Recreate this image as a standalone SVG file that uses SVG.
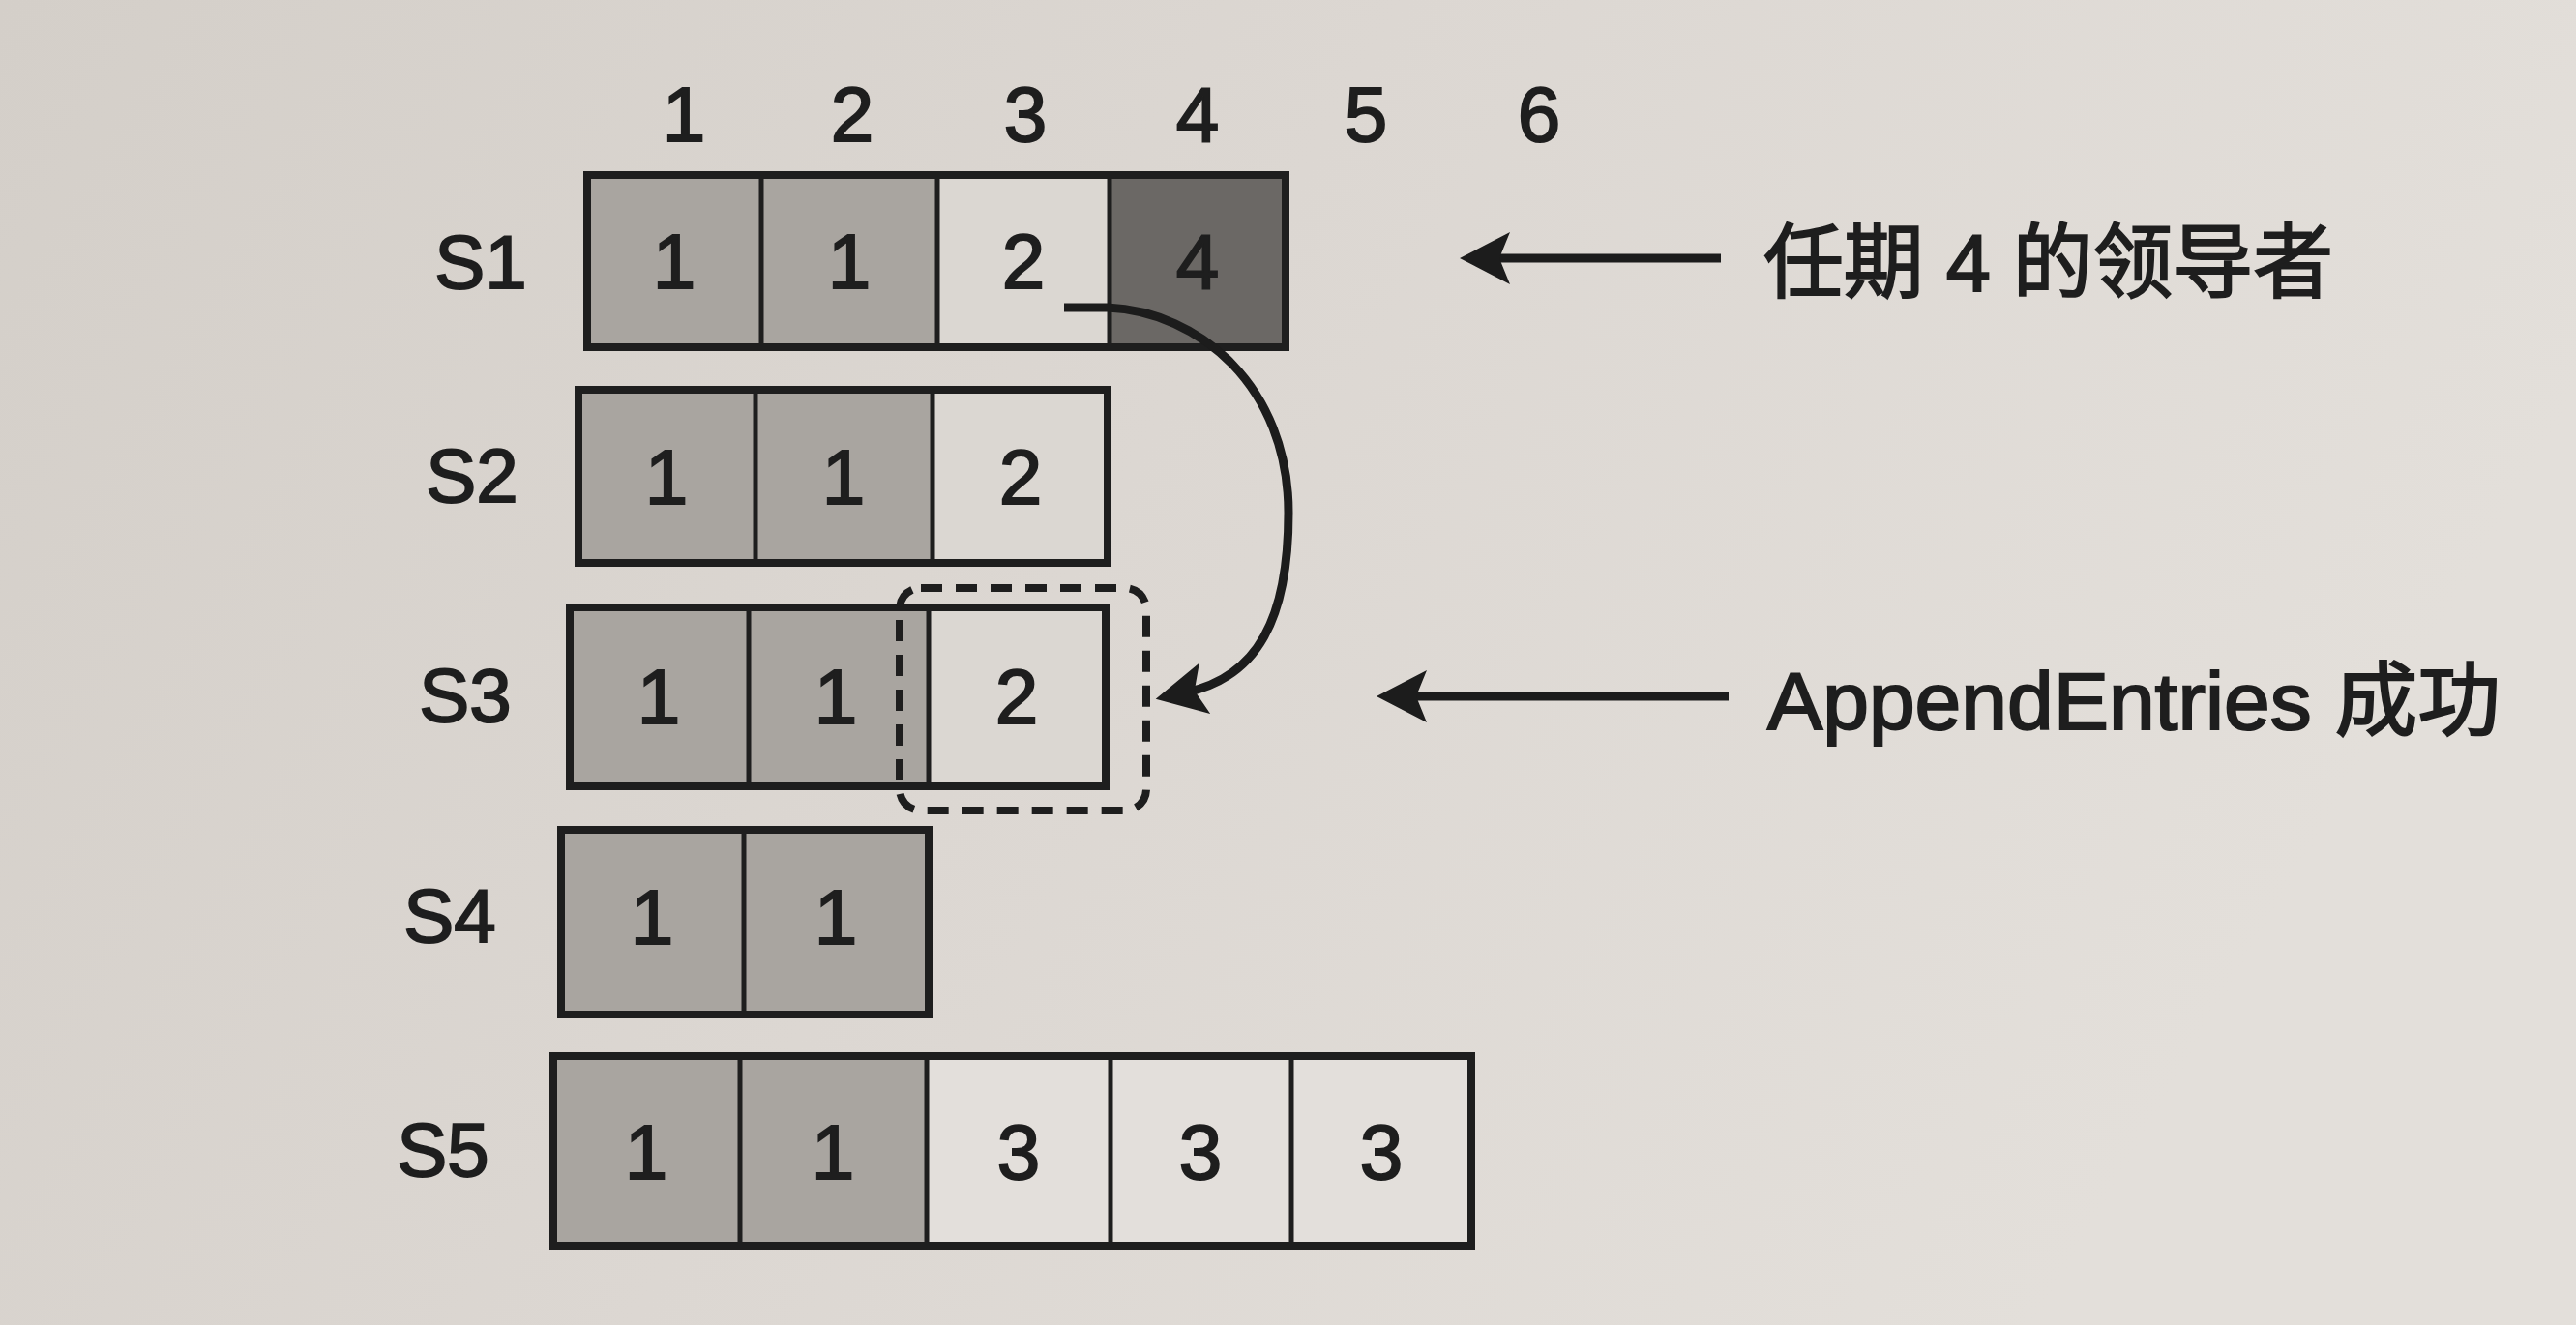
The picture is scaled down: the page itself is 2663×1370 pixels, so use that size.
<svg xmlns="http://www.w3.org/2000/svg" width="2663" height="1370" viewBox="0 0 2663 1370">
<defs>
<linearGradient id="bg" x1="0" y1="0" x2="1" y2="0.3">
<stop offset="0" stop-color="#d4cfc9"/>
<stop offset="0.5" stop-color="#dcd7d2"/>
<stop offset="1" stop-color="#e3dfda"/>
</linearGradient>
<marker id="ah" markerUnits="userSpaceOnUse" markerWidth="60" markerHeight="60" viewBox="0 0 60 60" refX="20" refY="27" orient="auto">
<path d="M0,0 L52,27 L0,54 L11,27 Z" fill="#1c1c1c"/>
</marker>
</defs>
<style>
.t1{fill:#a9a5a0}
.t2{fill:#dbd7d2}
.t3{fill:#e3dfdb}
.t4{fill:#6b6865}
.box{fill:none;stroke:#1e1e1e;stroke-width:8}
.div{stroke:#1e1e1e;stroke-width:5}
.num{font-family:"Liberation Sans","Noto Sans CJK SC",sans-serif;font-size:80px;fill:#1e1e1e;stroke:#1e1e1e;stroke-width:2;text-anchor:middle}
.lab{font-family:"Liberation Sans","Noto Sans CJK SC",sans-serif;font-size:78px;fill:#1e1e1e;stroke:#1e1e1e;stroke-width:2;text-anchor:middle}
.note{font-family:"Liberation Sans","Noto Sans CJK SC",sans-serif;font-size:84px;fill:#1e1e1e;stroke:#1e1e1e;stroke-width:2}
.arr{fill:none;stroke:#1c1c1c;stroke-width:9}
.curve{fill:none;stroke:#1c1c1c;stroke-width:9}
.dash{fill:none;stroke:#1e1e1e;stroke-width:8;stroke-dasharray:22 14}
</style>
<rect x="0" y="0" width="2663" height="1370" fill="url(#bg)"/>

<g id="headers">
<text class="num" x="707" y="146">1</text>
<text class="num" x="881" y="146">2</text>
<text class="num" x="1060" y="146">3</text>
<text class="num" x="1238" y="146">4</text>
<text class="num" x="1412" y="146">5</text>
<text class="num" x="1591" y="146">6</text>
</g>

<g id="S1">
<text class="lab" x="497" y="298">S1</text>
<rect class="t1" x="607" y="181" width="180" height="178"/>
<rect class="t1" x="787" y="181" width="182" height="178"/>
<rect class="t2" x="969" y="181" width="178" height="178"/>
<rect class="t4" x="1147" y="181" width="182" height="178"/>
<line class="div" x1="787" y1="181" x2="787" y2="359"/>
<line class="div" x1="969" y1="181" x2="969" y2="359"/>
<line class="div" x1="1147" y1="181" x2="1147" y2="359"/>
<rect class="box" x="607" y="181" width="722" height="178"/>
<text class="num" x="697" y="298">1</text>
<text class="num" x="878" y="298">1</text>
<text class="num" x="1058" y="298">2</text>
<text class="num" x="1238" y="298">4</text>
</g>

<g id="S2">
<text class="lab" x="488" y="519">S2</text>
<rect class="t1" x="598" y="403" width="183" height="179"/>
<rect class="t1" x="781" y="403" width="183" height="179"/>
<rect class="t2" x="964" y="403" width="181" height="179"/>
<line class="div" x1="781" y1="403" x2="781" y2="582"/>
<line class="div" x1="964" y1="403" x2="964" y2="582"/>
<rect class="box" x="598" y="403" width="547" height="179"/>
<text class="num" x="689" y="521">1</text>
<text class="num" x="872" y="521">1</text>
<text class="num" x="1055" y="521">2</text>
</g>

<g id="S3">
<text class="lab" x="481" y="746">S3</text>
<rect class="t1" x="589" y="628" width="185" height="185"/>
<rect class="t1" x="774" y="628" width="186" height="185"/>
<rect class="t2" x="960" y="628" width="183" height="185"/>
<line class="div" x1="774" y1="628" x2="774" y2="813"/>
<line class="div" x1="960" y1="628" x2="960" y2="813"/>
<rect class="box" x="589" y="628" width="554" height="185"/>
<text class="num" x="681" y="748">1</text>
<text class="num" x="864" y="748">1</text>
<text class="num" x="1051" y="748">2</text>
<rect id="S3-highlight" class="dash" x="930" y="608" width="255" height="230" rx="22" ry="22"/>
</g>

<g id="S4">
<text class="lab" x="465" y="974">S4</text>
<rect class="t1" x="580" y="858" width="189" height="191"/>
<rect class="t1" x="769" y="858" width="191" height="191"/>
<line class="div" x1="769" y1="858" x2="769" y2="1049"/>
<rect class="box" x="580" y="858" width="380" height="191"/>
<text class="num" x="674" y="976">1</text>
<text class="num" x="864" y="976">1</text>
</g>

<g id="S5">
<text class="lab" x="458" y="1216">S5</text>
<rect class="t1" x="572" y="1092" width="193" height="196"/>
<rect class="t1" x="765" y="1092" width="193" height="196"/>
<rect class="t3" x="958" y="1092" width="190" height="196"/>
<rect class="t3" x="1148" y="1092" width="187" height="196"/>
<rect class="t3" x="1335" y="1092" width="186" height="196"/>
<line class="div" x1="765" y1="1092" x2="765" y2="1288"/>
<line class="div" x1="958" y1="1092" x2="958" y2="1288"/>
<line class="div" x1="1148" y1="1092" x2="1148" y2="1288"/>
<line class="div" x1="1335" y1="1092" x2="1335" y2="1288"/>
<rect class="box" x="572" y="1092" width="949" height="196"/>
<text class="num" x="668" y="1219">1</text>
<text class="num" x="861" y="1219">1</text>
<text class="num" x="1053" y="1219">3</text>
<text class="num" x="1241" y="1219">3</text>
<text class="num" x="1428" y="1219">3</text>
</g>

<g id="note-leader">
<text class="note" x="1823" y="301" textLength="589" lengthAdjust="spacingAndGlyphs">任期 4 的领导者</text>
</g>
<g id="note-append">
<text class="note" x="1827" y="754" textLength="758" lengthAdjust="spacingAndGlyphs">AppendEntries 成功</text>
</g>

<g id="connectors">
<line class="arr" x1="1779" y1="267" x2="1541" y2="267" marker-end="url(#ah)"/>
<line class="arr" x1="1787" y1="720" x2="1455" y2="720" marker-end="url(#ah)"/>
<path class="curve" d="M1100,318 L1145,318 C1240,322 1332,400 1332,530 C1332,640 1300,700 1226,716" marker-end="url(#ah)"/>
</g>
</svg>
